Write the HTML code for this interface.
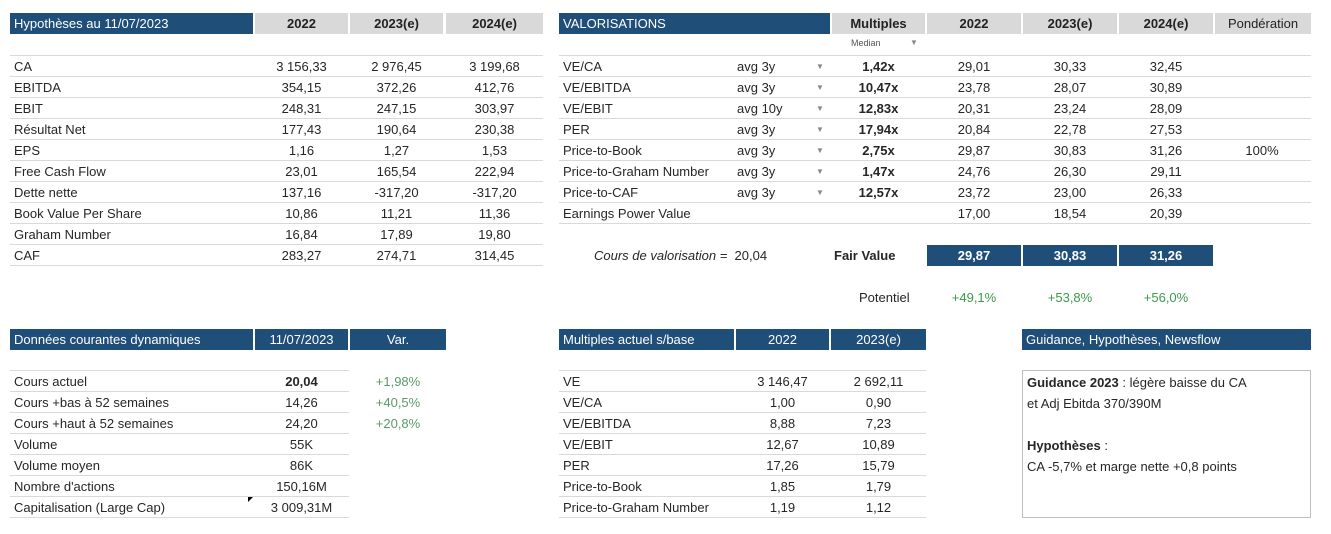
<!DOCTYPE html>
<html><head><meta charset="utf-8"><style>
body{margin:0;width:1331px;height:534px;background:#fff;position:relative;overflow:hidden;font-family:"Liberation Sans",sans-serif;font-size:13px;color:#262626}
div{position:absolute;box-sizing:border-box;white-space:nowrap}
.h{background:#1f4e79;color:#fff;height:21px;line-height:21px;padding-left:4px}
.g{background:#d9d9d9;color:#222;height:21px;line-height:21px;text-align:center;font-weight:bold}
.c{text-align:center}
.hl{height:1px;background:#d9d9d9}
.t{height:21px;line-height:21px}
.gr{color:#3a9a4a}
.b{font-weight:bold}
</style></head><body>
<!-- Top left -->
<div class="h" style="left:10px;top:13px;width:243px">Hypothèses au 11/07/2023</div>
<div class="g" style="left:255px;top:13px;width:93px">2022</div>
<div class="g" style="left:350px;top:13px;width:93px">2023(e)</div>
<div class="g" style="left:446px;top:13px;width:97px">2024(e)</div>
<div id="tl"></div>
<!-- Top right -->
<div class="h" style="left:559px;top:13px;width:271px">VALORISATIONS</div>
<div class="g" style="left:832px;top:13px;width:93px">Multiples</div>
<div class="g" style="left:927px;top:13px;width:94px">2022</div>
<div class="g" style="left:1023px;top:13px;width:94px">2023(e)</div>
<div class="g" style="left:1119px;top:13px;width:94px">2024(e)</div>
<div class="g" style="left:1215px;top:13px;width:96px;font-weight:normal">Pondération</div>
<div style="left:851px;top:38px;font-size:9px;color:#555">Median</div>
<div style="left:910px;top:38px;font-size:8px;color:#888">▼</div>
<!-- Fair value -->
<div style="left:594px;top:245px;line-height:21px"><i>Cours de valorisation =</i>&nbsp; 20,04</div>
<div class="b" style="left:834px;top:245px;line-height:21px">Fair Value</div>
<div class="h b c" style="left:927px;top:245px;width:94px;padding:0">29,87</div>
<div class="h b c" style="left:1023px;top:245px;width:94px;padding:0">30,83</div>
<div class="h b c" style="left:1119px;top:245px;width:94px;padding:0">31,26</div>
<div style="left:859px;top:287px;line-height:21px">Potentiel</div>
<div class="gr c" style="left:927px;top:287px;width:94px;line-height:21px">+49,1%</div>
<div class="gr c" style="left:1023px;top:287px;width:94px;line-height:21px">+53,8%</div>
<div class="gr c" style="left:1119px;top:287px;width:94px;line-height:21px">+56,0%</div>
<!-- Bottom left -->
<div class="h" style="left:10px;top:329px;width:243px">Données courantes dynamiques</div>
<div class="h c" style="left:255px;top:329px;width:93px;padding:0">11/07/2023</div>
<div class="h c" style="left:350px;top:329px;width:96px;padding:0">Var.</div>
<!-- Bottom right -->
<div class="h" style="left:559px;top:329px;width:175px">Multiples actuel s/base</div>
<div class="h c" style="left:736px;top:329px;width:93px;padding:0">2022</div>
<div class="h c" style="left:831px;top:329px;width:95px;padding:0">2023(e)</div>
<div class="h" style="left:1022px;top:329px;width:289px">Guidance, Hypothèses, Newsflow</div>
<div style="left:1022px;top:370px;width:289px;height:148px;border:1px solid #bfbfbf;padding:1px 4px;line-height:21px;white-space:normal"><b>Guidance 2023</b> : légère baisse du CA<br>et Adj Ebitda 370/390M<br><br><b>Hypothèses</b> :<br>CA -5,7% et marge nette +0,8 points</div>
<div style="left:248px;top:496px;width:0;height:0;border-left:6px solid #000;border-bottom:6px solid transparent"></div>
<script>
function add(html){document.body.insertAdjacentHTML('beforeend',html)}
function lines(x,w,y0,n){for(let i=0;i<=n;i++)add(`<div class="hl" style="left:${x}px;top:${y0+21*i}px;width:${w}px"></div>`)}
// top-left
lines(10,533,55,10);
const tl=[["CA","3 156,33","2 976,45","3 199,68"],["EBITDA","354,15","372,26","412,76"],["EBIT","248,31","247,15","303,97"],["Résultat Net","177,43","190,64","230,38"],["EPS","1,16","1,27","1,53"],["Free Cash Flow","23,01","165,54","222,94"],["Dette nette","137,16","-317,20","-317,20"],["Book Value Per Share","10,86","11,21","11,36"],["Graham Number","16,84","17,89","19,80"],["CAF","283,27","274,71","314,45"]];
tl.forEach((r,i)=>{let y=56+21*i;add(`<div class="t" style="left:14px;top:${y}px">${r[0]}</div>`);[255,350,446].forEach((x,j)=>add(`<div class="t c" style="left:${x}px;top:${y}px;width:${j==2?97:93}px">${r[j+1]}</div>`))});
// top-right
lines(559,752,55,8);
const tr=[["VE/CA","avg 3y","1,42x","29,01","30,33","32,45",""],["VE/EBITDA","avg 3y","10,47x","23,78","28,07","30,89",""],["VE/EBIT","avg 10y","12,83x","20,31","23,24","28,09",""],["PER","avg 3y","17,94x","20,84","22,78","27,53",""],["Price-to-Book","avg 3y","2,75x","29,87","30,83","31,26","100%"],["Price-to-Graham Number","avg 3y","1,47x","24,76","26,30","29,11",""],["Price-to-CAF","avg 3y","12,57x","23,72","23,00","26,33",""],["Earnings Power Value","","","17,00","18,54","20,39",""]];
tr.forEach((r,i)=>{let y=56+21*i;add(`<div class="t" style="left:563px;top:${y}px">${r[0]}</div>`);
if(r[1]){add(`<div class="t" style="left:737px;top:${y}px">${r[1]}</div><div class="t" style="left:816px;top:${y}px;font-size:8px;color:#888">▼</div>`)}
add(`<div class="t c b" style="left:832px;top:${y}px;width:93px">${r[2]}</div>`);
[927,1023,1119,1215].forEach((x,j)=>add(`<div class="t c" style="left:${x}px;top:${y}px;width:94px">${r[j+3]}</div>`))});
// bottom-left
lines(10,339,370,7);
const bl=[["Cours actuel","<b>20,04</b>","+1,98%"],["Cours +bas à 52 semaines","14,26","+40,5%"],["Cours +haut à 52 semaines","24,20","+20,8%"],["Volume","55K",""],["Volume moyen","86K",""],["Nombre d'actions","150,16M",""],["Capitalisation (Large Cap)","3 009,31M",""]];
bl.forEach((r,i)=>{let y=371+21*i;add(`<div class="t" style="left:14px;top:${y}px">${r[0]}</div><div class="t c" style="left:255px;top:${y}px;width:93px">${r[1]}</div><div class="t c gr" style="left:350px;top:${y}px;width:96px;color:#5a9a6a">${r[2]}</div>`)});
// bottom-right
lines(559,367,370,7);
const br=[["VE","3 146,47","2 692,11"],["VE/CA","1,00","0,90"],["VE/EBITDA","8,88","7,23"],["VE/EBIT","12,67","10,89"],["PER","17,26","15,79"],["Price-to-Book","1,85","1,79"],["Price-to-Graham Number","1,19","1,12"]];
br.forEach((r,i)=>{let y=371+21*i;add(`<div class="t" style="left:563px;top:${y}px">${r[0]}</div><div class="t c" style="left:736px;top:${y}px;width:93px">${r[1]}</div><div class="t c" style="left:831px;top:${y}px;width:95px">${r[2]}</div>`)});
</script>
</body></html>
